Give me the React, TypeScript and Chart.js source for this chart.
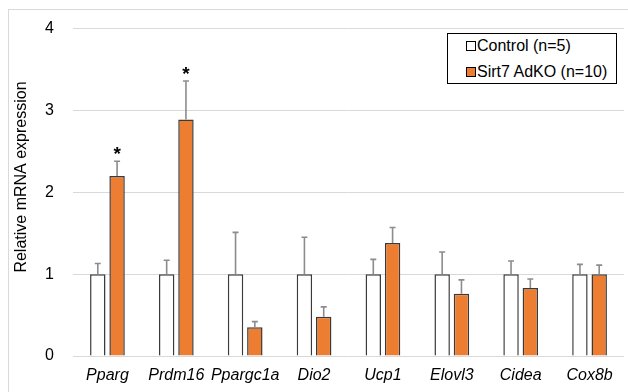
import React, { useEffect, useRef } from "react";
import { Chart, registerables } from "chart.js";

Chart.register(...registerables);

const genes = ["Pparg", "Prdm16", "Ppargc1a", "Dio2", "Ucp1", "Elovl3", "Cidea", "Cox8b"];
const controlLabel = "Control (n=5)";
const koLabel = "Sirt7 AdKO (n=10)";
const controlValues = [1, 1, 1, 1, 1, 1, 1, 1];
const controlErrors = [0.13, 0.17, 0.51, 0.45, 0.18, 0.27, 0.16, 0.12];
const koValues = [2.2, 2.89, 0.35, 0.48, 1.38, 0.76, 0.83, 1.0];
const koErrors = [0.18, 0.47, 0.07, 0.12, 0.19, 0.17, 0.11, 0.11];
const koSignificance = ["*", "*", "", "", "", "", "", ""];
const yTicks = [0, 1, 2, 3, 4];
const yTitle = "Relative mRNA expression";

const ORANGE = "#ED7D31";
const FONT = "'Liberation Sans', Arial, sans-serif";

const errorBarPlugin = {
  id: "errorBars",
  afterDatasetsDraw(chart: any) {
    const ctx = chart.ctx;
    const yScale = chart.scales.y;
    const errs = [controlErrors, koErrors];
    chart.data.datasets.forEach((ds: any, di: number) => {
      const meta = chart.getDatasetMeta(di);
      meta.data.forEach((bar: any, i: number) => {
        const v = ds.data[i];
        const yTop = yScale.getPixelForValue(v);
        const yErr = yScale.getPixelForValue(v + errs[di][i]);
        ctx.save();
        ctx.strokeStyle = "#8c8c8c";
        ctx.lineWidth = 1.6;
        ctx.beginPath();
        ctx.moveTo(bar.x, yTop);
        ctx.lineTo(bar.x, yErr);
        ctx.moveTo(bar.x - 3, yErr);
        ctx.lineTo(bar.x + 3, yErr);
        ctx.stroke();
        if (di === 1 && koSignificance[i]) {
          ctx.fillStyle = "#000";
          ctx.font = `bold 19px ${FONT}`;
          ctx.textAlign = "center";
          ctx.textBaseline = "alphabetic";
          ctx.fillText(koSignificance[i], bar.x, yErr - 12 + 11);
        }
        ctx.restore();
      });
    });
  },
};

const yTitlePlugin = {
  id: "yTitleCustom",
  afterDraw(chart: any) {
    const ctx = chart.ctx;
    ctx.save();
    ctx.translate(22, 177);
    ctx.rotate(-Math.PI / 2);
    ctx.fillStyle = "#000";
    ctx.font = `16px ${FONT}`;
    ctx.textAlign = "center";
    ctx.textBaseline = "middle";
    ctx.fillText(yTitle, 0, 0);
    ctx.restore();
  },
};

export default function App() {
  const ref = useRef<HTMLCanvasElement>(null);
  useEffect(() => {
    document.body.style.overflow = "hidden";
    const chart = new Chart(ref.current!, {
      type: "bar",
      data: {
        labels: genes,
        datasets: [
          {
            label: controlLabel,
            data: controlValues,
            backgroundColor: "#ffffff",
            borderColor: "#3a3a3a",
            borderWidth: 1.5,
            categoryPercentage: 0.56,
            barPercentage: 0.8,
          },
          {
            label: koLabel,
            data: koValues,
            backgroundColor: ORANGE,
            borderColor: "#3a3a3a",
            borderWidth: 1.5,
            categoryPercentage: 0.56,
            barPercentage: 0.8,
          },
        ],
      },
      options: {
        animation: false,
        responsive: false,
        maintainAspectRatio: false,
        layout: { padding: { left: 0, right: 4, top: 26, bottom: 0 } },
        plugins: {
          legend: { display: false },
          tooltip: { enabled: false },
          title: { display: false },
        },
        scales: {
          x: {
            grid: { display: false, drawTicks: false },
            border: { display: false },
            ticks: {
              color: "#000",
              font: { family: FONT, size: 16, style: "italic" },
              padding: 10,
              maxRotation: 0,
              autoSkip: false,
            },
            afterFit(scale: any) {
              scale.height = 36;
            },
          },
          y: {
            min: 0,
            max: 4,
            afterBuildTicks(scale: any) {
              scale.ticks = yTicks.map((v) => ({ value: v }));
            },
            grid: { color: "#d9d9d9", lineWidth: 1, drawTicks: false },
            border: { display: false },
            ticks: {
              color: "#000",
              font: { family: FONT, size: 16 },
              padding: 19,
            },
            afterFit(scale: any) {
              scale.width = 73;
            },
          },
        },
      },
      plugins: [errorBarPlugin, yTitlePlugin],
    });
    return () => chart.destroy();
  }, []);

  const legendItems = [
    { label: controlLabel, color: "#ffffff" },
    { label: koLabel, color: ORANGE },
  ];

  return (
    <div style={{ position: "absolute", left: 0, top: 0, width: 628, height: 392, overflow: "hidden", background: "#fff" }}>
      <div
        style={{
          position: "absolute",
          left: 8,
          top: 9,
          width: 640,
          height: 400,
          border: "1px solid #d9d9d9",
        }}
      />
      <canvas ref={ref} width={628} height={392} style={{ position: "absolute", left: 0, top: 0 }} />
      <div
        style={{
          position: "absolute",
          left: 447,
          top: 33,
          width: 168,
          height: 49,
          border: "1px solid #000",
          background: "#fff",
          fontFamily: FONT,
          fontSize: 16,
          color: "#000",
        }}
      >
        {legendItems.map((it, i) => (
          <div
            key={i}
            style={{
              position: "absolute",
              left: 18,
              top: 2 + i * 26,
              height: 20,
              display: "flex",
              alignItems: "center",
              whiteSpace: "nowrap",
            }}
          >
            <span
              style={{
                display: "inline-block",
                width: 8,
                height: 8,
                border: "1px solid #000",
                background: it.color,
                marginRight: 1,
              }}
            />
            <span>{it.label}</span>
          </div>
        ))}
      </div>
    </div>
  );
}
